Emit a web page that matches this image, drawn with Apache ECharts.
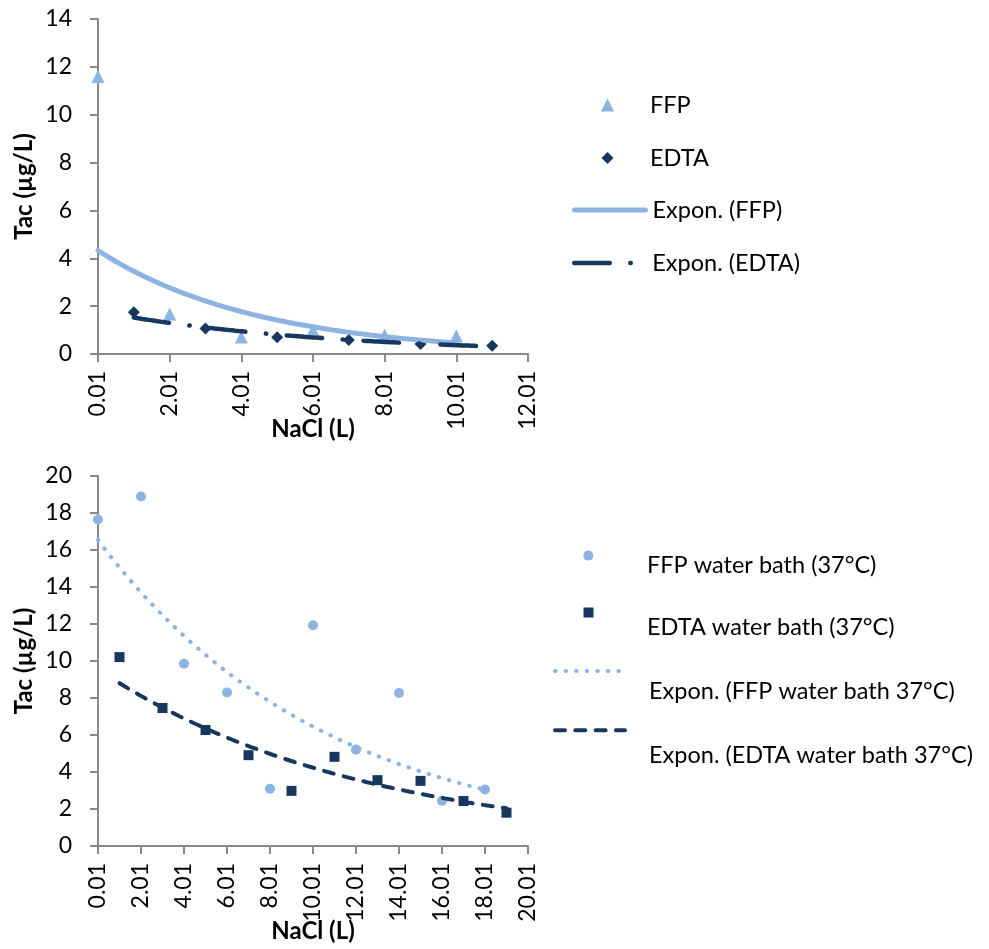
<!DOCTYPE html>
<html>
<head>
<meta charset="utf-8">
<title>Tac vs NaCl</title>
<script src="https://cdn.jsdelivr.net/npm/echarts@6/dist/echarts.min.js"></script>
<style>
  html, body { margin: 0; padding: 0; background: #fff; }
  #chart { width: 989px; height: 949px; }
</style>
</head>
<body>
<div id="chart"></div>
<script>
// ---- Upper panel: plasma storage ----
const topFfpX = [0.01, 2.01, 4.01, 6.01, 8.01, 10.01];
const topFfpY = [11.6, 1.67, 0.71, 1.0, 0.79, 0.75];
const topEdtaX = [1.01, 3.01, 5.01, 7.01, 9.01, 11.01];
const topEdtaY = [1.74, 1.07, 0.70, 0.58, 0.42, 0.35];
const topXTicks = [0.01, 2.01, 4.01, 6.01, 8.01, 10.01, 12.01];

// ---- Lower panel: water bath at 37 °C ----
const botFfpX = [0.01, 2.01, 4.01, 6.01, 8.01, 10.01, 12.01, 14.01, 16.01, 18.01];
const botFfpY = [17.65, 18.89, 9.85, 8.30, 3.09, 11.93, 5.21, 8.27, 2.44, 3.05];
const botEdtaX = [1.01, 3.01, 5.01, 7.01, 9.01, 11.01, 13.01, 15.01, 17.01, 19.01];
const botEdtaY = [10.21, 7.46, 6.27, 4.91, 2.98, 4.82, 3.56, 3.52, 2.43, 1.80];
const botXTicks = [0.01, 2.01, 4.01, 6.01, 8.01, 10.01, 12.01, 14.01, 16.01, 18.01, 20.01];

const LIGHT = '#8DB3E2';
const NAVY = '#17375E';
const AXIS = '#898989';
const FONT = 'Lato';
const TICK_SIZE = 23;
const TITLE_SIZE = 24;
const LEGEND_SIZE = 23.5;

// Least-squares fit of y = a * exp(b * x) on ln(y), as a spreadsheet trendline does
function expTrend(xs, ys, steps) {
  const n = xs.length;
  let sx = 0, sl = 0, sxx = 0, sxl = 0;
  for (let i = 0; i < n; i++) {
    const l = Math.log(ys[i]);
    sx += xs[i]; sl += l; sxx += xs[i] * xs[i]; sxl += xs[i] * l;
  }
  const b = (n * sxl - sx * sl) / (n * sxx - sx * sx);
  const a = Math.exp((sl - b * sx) / n);
  const x0 = xs[0], x1 = xs[n - 1];
  const out = [];
  for (let k = 0; k <= steps; k++) {
    const x = x0 + (x1 - x0) * k / steps;
    out.push([x, a * Math.exp(b * x)]);
  }
  return out;
}
const pairs = (xs, ys) => xs.map((x, i) => [x, ys[i]]);

function xAxisFor(gridIndex, ticks, nameGap) {
  return {
    type: 'value', gridIndex,
    min: ticks[0], max: ticks[ticks.length - 1],
    name: 'NaCl (L)', nameLocation: 'middle', nameGap, nameMoveOverlap: false,
    nameTextStyle: { fontFamily: FONT, fontWeight: 'bold', fontSize: TITLE_SIZE, color: '#000' },
    axisLine: { show: true, onZero: false, lineStyle: { color: AXIS, width: 2 } },
    axisTick: { show: true, inside: false, length: 8, customValues: ticks, lineStyle: { color: AXIS, width: 2 } },
    axisLabel: { rotate: 90, margin: 17, customValues: ticks, fontFamily: FONT, fontSize: TICK_SIZE, color: '#000',
                 formatter: v => v.toFixed(2) },
    splitLine: { show: false }
  };
}
function yAxisFor(gridIndex, max) {
  return {
    type: 'value', gridIndex, min: 0, max, interval: 2,
    name: 'Tac (µg/L)', nameLocation: 'middle', nameGap: 62, nameMoveOverlap: false,
    nameTextStyle: { fontFamily: FONT, fontWeight: 'bold', fontSize: TITLE_SIZE, color: '#000' },
    axisLine: { show: true, lineStyle: { color: AXIS, width: 2 } },
    axisTick: { show: true, inside: false, length: 8, lineStyle: { color: AXIS, width: 2 } },
    axisLabel: { margin: 26, fontFamily: FONT, fontSize: TICK_SIZE, color: '#000' },
    splitLine: { show: false }
  };
}

const LH = 28;
// One legend block per entry so each row sits where it should.
// When d > 0 the label is set one half-line lower than its key (an empty first line of height 2d).
function legendItem(name, left, centerY, width, height, d, padLeft, extra) {
  const lh = d > 0 ? 2 * d : LH;
  const boxH = d > 0 ? 4 * d : LH;
  return Object.assign({
    orient: 'vertical', left, top: centerY - Math.max(boxH, height) / 2, padding: 0,
    itemWidth: width, itemHeight: height, selectedMode: false,
    data: [name],
    formatter: d > 0 ? (n => '\n' + n) : (n => n),
    textStyle: { fontFamily: FONT, fontSize: LEGEND_SIZE, color: '#000', lineHeight: lh, padding: [0, 0, 0, padLeft] }
  }, extra || {});
}
// Marker keys: square box centred on cx, text starting at textX
function markerLegendItem(name, cx, centerY, size, d, textX) {
  const left = cx - size / 2;
  return legendItem(name, left, centerY, size, size, d, textX - (left + size + 5));
}
function lineLegendItem(name, left, centerY, width, d, textX, lineStyle) {
  return legendItem(name, left, centerY, width, 12, d, textX - (left + width + 5), {
    data: [{ name, itemStyle: { opacity: 0 }, lineStyle }]
  });
}

const topFfpTrendStyle = { color: LIGHT, width: 5, type: 'solid', cap: 'round' };
const topEdtaTrendStyle = { color: NAVY, width: 4.5, type: [35.5, 20.5, 0.5, 20.5], cap: 'round' };
const botFfpTrendStyle = { color: LIGHT, width: 4, type: [0.5, 10.07], cap: 'round' };
const botEdtaTrendStyle = { color: NAVY, width: 4, type: [10, 10.3], cap: 'round' };

const option = {
  animation: false,
  backgroundColor: '#fff',
  grid: [
    { left: 98, top: 19, width: 430, height: 335, outerBoundsMode: 'none', containLabel: false },
    { left: 98, top: 476, width: 430, height: 370, outerBoundsMode: 'none', containLabel: false }
  ],
  xAxis: [xAxisFor(0, topXTicks, 63), xAxisFor(1, botXTicks, 73)],
  yAxis: [yAxisFor(0, 14), yAxisFor(1, 20)],
  legend: [
    markerLegendItem('FFP', 607.5, 105, 13, 0, 650),
    markerLegendItem('EDTA', 607.5, 158, 12, 0, 650),
    lineLegendItem('Expon. (FFP)', 572, 210, 71, 0, 650, topFfpTrendStyle),
    lineLegendItem('Expon. (EDTA)', 572, 263, 71, 0, 650, topEdtaTrendStyle),
    markerLegendItem('FFP water bath (37°C)', 588.3, 553.3, 10, 9.7, 647),
    markerLegendItem('EDTA water bath (37°C)', 588.5, 612.5, 10, 15.2, 647),
    lineLegendItem('Expon. (FFP water bath 37°C)', 553, 671, 66, 20.5, 647, botFfpTrendStyle),
    lineLegendItem('Expon. (EDTA water bath 37°C)', 553, 730.3, 70, 24.7, 647, botEdtaTrendStyle)
  ],
  series: [
    { name: 'FFP', type: 'scatter', xAxisIndex: 0, yAxisIndex: 0, symbol: 'triangle', symbolSize: 13,
      itemStyle: { color: LIGHT, opacity: 1 }, data: pairs(topFfpX, topFfpY), z: 2 },
    { name: 'EDTA', type: 'scatter', xAxisIndex: 0, yAxisIndex: 0, symbol: 'diamond', symbolSize: 12,
      itemStyle: { color: NAVY, opacity: 1 }, data: pairs(topEdtaX, topEdtaY), z: 2 },
    { name: 'Expon. (FFP)', type: 'line', xAxisIndex: 0, yAxisIndex: 0, showSymbol: false, symbol: 'none',
      lineStyle: topFfpTrendStyle, itemStyle: { color: LIGHT }, data: expTrend(topFfpX, topFfpY, 120), z: 3 },
    { name: 'Expon. (EDTA)', type: 'line', xAxisIndex: 0, yAxisIndex: 0, showSymbol: false, symbol: 'none',
      lineStyle: topEdtaTrendStyle, itemStyle: { color: NAVY }, data: expTrend(topEdtaX, topEdtaY, 120), z: 3 },

    { name: 'FFP water bath (37°C)', type: 'scatter', xAxisIndex: 1, yAxisIndex: 1, symbol: 'circle', symbolSize: 10,
      itemStyle: { color: LIGHT, opacity: 1 }, data: pairs(botFfpX, botFfpY), z: 2 },
    { name: 'EDTA water bath (37°C)', type: 'scatter', xAxisIndex: 1, yAxisIndex: 1, symbol: 'rect', symbolSize: 10,
      itemStyle: { color: NAVY, opacity: 1 }, data: pairs(botEdtaX, botEdtaY), z: 2 },
    { name: 'Expon. (FFP water bath 37°C)', type: 'line', xAxisIndex: 1, yAxisIndex: 1, showSymbol: false, symbol: 'none',
      lineStyle: botFfpTrendStyle, itemStyle: { color: LIGHT }, data: expTrend(botFfpX, botFfpY, 200), z: 3 },
    { name: 'Expon. (EDTA water bath 37°C)', type: 'line', xAxisIndex: 1, yAxisIndex: 1, showSymbol: false, symbol: 'none',
      lineStyle: botEdtaTrendStyle, itemStyle: { color: NAVY }, data: expTrend(botEdtaX, botEdtaY, 200), z: 3 }
  ]
};

const chart = echarts.init(document.getElementById('chart'), null, { renderer: 'canvas' });
chart.setOption(option);
</script>
</body>
</html>
